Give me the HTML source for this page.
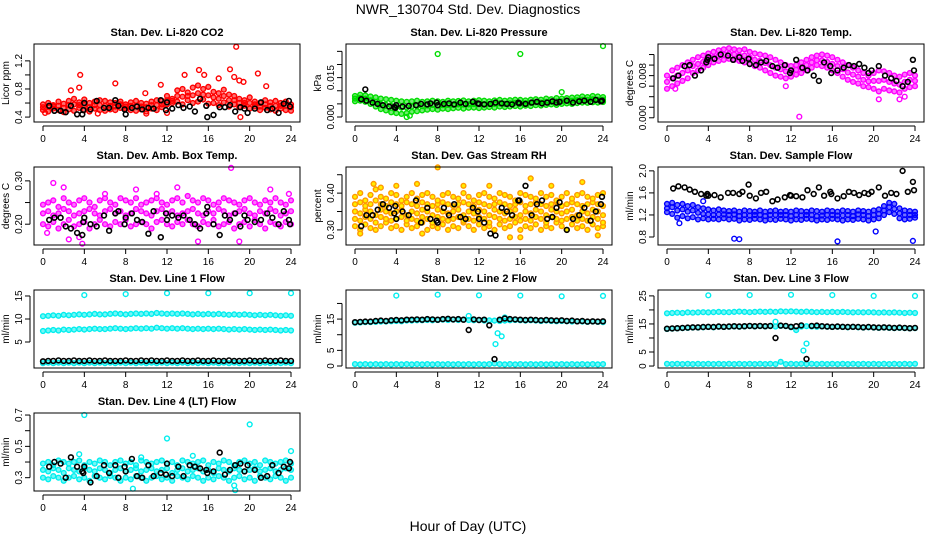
<!DOCTYPE html>
<html><head><meta charset="utf-8"><style>
html,body{margin:0;padding:0;background:#fff;}
svg{display:block;font-family:"Liberation Sans",sans-serif;}
</style></head><body>
<svg id="chart" width="936" height="540" viewBox="0 0 936 540" xmlns="http://www.w3.org/2000/svg">
<text x="468" y="14" text-anchor="middle" font-size="14">NWR_130704  Std. Dev. Diagnostics</text>
<text x="468" y="531" text-anchor="middle" font-size="14">Hour of Day (UTC)</text>
</svg>
<script>
const xTicks = [0,4,8,12,16,20,24];
const blackHours = [0.6,1.1,1.7,2.2,2.7,3.3,3.8,3.9,4.0,4.6,5.2,5.9,6.4,7.0,7.3,7.9,8.0,8.6,9.1,9.6,10.2,10.7,11.4,11.9,12.0,12.5,13.1,13.6,14.2,14.7,15.2,15.8,15.9,16.5,17.1,17.6,18.1,18.6,19.1,19.5,19.8,20.5,21.1,21.7,22.2,22.8,23.3,23.8,23.9];

// Panel 1: CO2
const co2A = [.58,.60,.57,.62,.59,.63,.66,.61,.65,.60,.62,.64,.63,.61,.60,.62,.58,.61,.63,.60,.59,.62,.64,.63,.70,.66,.78,.80,.75,.82,.85,.80,.83,.76,.74,.79,.72,.70,.66,.64,.68,.62,.60,.64,.61,.63,.60,.62,.58];
const co2B = [.50,.48,.52,.50,.47,.51,.49,.53,.50,.48,.52,.50,.49,.51,.50,.53,.52,.50,.49,.51,.48,.52,.50,.54,.58,.60,.62,.58,.64,.60,.62,.65,.59,.60,.57,.61,.55,.58,.54,.56,.52,.55,.50,.53,.51,.49,.52,.50,.49];
const co2C = [.54,.55,.55,.56,.53,.57,.58,.57,.57,.54,.57,.57,.56,.56,.55,.58,.55,.56,.56,.55,.54,.57,.57,.58,.64,.63,.70,.69,.70,.71,.74,.72,.71,.68,.66,.70,.64,.64,.60,.60,.60,.58,.55,.58,.56,.56,.56,.56,.54];
const co2OutX = [3.6,3.5,2.7,7.0,9.9,11.4,13.7,15.1,15.6,18.1,18.7,18.5,19.0,19.4,20.8,21.6,19.1,0.2,5.3,10.0,12.0,17.0];
const co2OutY = [1.0,.82,.78,.88,.74,.86,1.0,1.07,1.0,1.08,1.4,.97,.92,.90,1.02,.84,.40,.46,.45,.45,.46,.95];
const co2Black = [.56,.49,.49,.47,.56,.44,.44,.50,.60,.51,.63,.53,.53,.64,.56,.51,.44,.53,.55,.51,.53,.52,.64,.50,.61,.52,.57,.53,.55,.48,.66,.56,.40,.43,.54,.54,.57,.48,.54,.52,.46,.52,.61,.50,.52,.46,.59,.63,.55];

// Panel 2: Pressure
const prA = [.0080,.0085,.0082,.0078,.0075,.0070,.0068,.0065,.0062,.0060,.0058,.0060,.0062,.0058,.0060,.0062,.0060,.0058,.0062,.0060,.0061,.0063,.0060,.0062,.0064,.0062,.0060,.0063,.0065,.0062,.0064,.0066,.0065,.0063,.0066,.0068,.0066,.0070,.0068,.0072,.0070,.0072,.0074,.0075,.0078,.0076,.0080,.0078,.0076];
const prB = [.0060,.0062,.0058,.0050,.0040,.0030,.0025,.0018,.0015,.0012,.0015,.0020,.0022,.0025,.0028,.0030,.0028,.0032,.0030,.0033,.0035,.0032,.0035,.0036,.0034,.0036,.0038,.0036,.0040,.0038,.0040,.0042,.0040,.0043,.0042,.0045,.0044,.0046,.0048,.0046,.0050,.0052,.0050,.0053,.0055,.0054,.0056,.0055,.0057];
const prC = [.0070,.0073,.0070,.0064,.0058,.0050,.0046,.0042,.0038,.0036,.0036,.0040,.0042,.0041,.0044,.0046,.0044,.0045,.0046,.0046,.0048,.0047,.0048,.0049,.0049,.0049,.0049,.0050,.0052,.0050,.0052,.0054,.0052,.0053,.0054,.0056,.0055,.0058,.0058,.0059,.0060,.0062,.0062,.0064,.0066,.0065,.0068,.0066,.0066];
const prOutX = [8,16,24,20,5,5.3];
const prOutY = [.024,.024,.027,.0095,.0000,.0005];
const prBlack = [.0068,.0062,.0055,.0050,.0045,.0040,.0038,.0035,.0045,.0040,.0042,.0045,.0050,.0048,.0052,.0055,.0045,.0050,.0052,.0048,.0055,.0050,.0058,.0052,.0050,.0048,.0050,.0055,.0052,.0050,.0048,.0055,.0052,.0050,.0055,.0058,.0052,.0055,.0060,.0055,.0058,.0062,.0055,.0060,.0062,.0058,.0065,.0060,.0062];

// Panel 3: Li-820 Temp
const tA = [.0080,.0090,.0095,.0100,.0105,.0110,.0115,.0118,.0122,.0125,.0128,.0130,.0132,.0130,.0128,.0130,.0125,.0122,.0120,.0118,.0115,.0110,.0105,.0100,.0098,.0100,.0105,.0110,.0115,.0118,.0120,.0118,.0115,.0110,.0105,.0100,.0095,.0090,.0085,.0080,.0085,.0090,.0088,.0085,.0080,.0078,.0082,.0085,.0080];
const tB = [.0055,.0060,.0065,.0070,.0075,.0085,.0090,.0095,.0100,.0105,.0108,.0110,.0112,.0110,.0108,.0105,.0102,.0098,.0095,.0090,.0085,.0080,.0078,.0075,.0078,.0082,.0085,.0090,.0095,.0100,.0098,.0095,.0090,.0085,.0078,.0072,.0068,.0065,.0060,.0058,.0055,.0050,.0055,.0052,.0050,.0048,.0055,.0058,.0060];
const tC = [.0068,.0075,.0080,.0085,.0090,.0098,.0102,.0106,.0111,.0115,.0118,.0120,.0122,.0120,.0118,.0118,.0114,.0110,.0108,.0104,.0100,.0095,.0092,.0088,.0088,.0091,.0095,.0100,.0105,.0109,.0109,.0106,.0102,.0098,.0092,.0086,.0082,.0078,.0072,.0069,.0070,.0070,.0072,.0068,.0065,.0063,.0068,.0072,.0070];
const tOutX = [0.8,12.8,11.5,20.5,22.5,23.0];
const tOutY = [.0055,.0002,.0060,.0035,.0035,.0040];
const tBlack = [.0075,.0080,.0098,.0100,.0080,.0090,.0105,.0110,.0115,.0112,.0120,.0118,.0110,.0115,.0108,.0112,.0102,.0100,.0105,.0108,.0098,.0095,.0100,.0085,.0090,.0110,.0095,.0090,.0080,.0070,.0105,.0098,.0085,.0090,.0095,.0100,.0098,.0102,.0095,.0085,.0090,.0098,.0080,.0075,.0070,.0060,.0068,.0110,.0090];

// Panel 4: Amb Box Temp
const abA = [.245,.25,.255,.24,.26,.25,.245,.255,.26,.25,.24,.255,.26,.25,.245,.26,.255,.25,.26,.245,.25,.255,.26,.25,.245,.255,.26,.25,.265,.255,.25,.26,.255,.245,.25,.26,.255,.25,.245,.255,.26,.25,.245,.255,.25,.26,.25,.245,.255];
const abB = [.20,.195,.205,.19,.20,.21,.195,.20,.205,.19,.20,.21,.20,.195,.205,.20,.21,.195,.20,.205,.20,.19,.205,.21,.20,.195,.205,.20,.21,.20,.195,.205,.20,.21,.195,.20,.205,.19,.20,.205,.195,.21,.20,.19,.205,.20,.195,.205,.20];
const abC = [.225,.23,.22,.225,.235,.23,.22,.225,.23,.235,.225,.22,.23,.235,.225,.23,.22,.225,.235,.23,.225,.22,.23,.235,.225,.23,.22,.225,.23,.235,.225,.22,.23,.225,.235,.23,.22,.225,.23,.235,.225,.22,.23,.225,.235,.23,.22,.225,.23];
const abOutX = [1,2,2.5,3.5,3.8,9,13,18.2,15,19,22,23.8,0.4,6,11];
const abOutY = [.295,.285,.165,.17,.155,.28,.285,.33,.16,.16,.28,.27,.18,.27,.27];
const abBlack = [.21,.215,.215,.195,.19,.18,.175,.205,.215,.20,.195,.22,.185,.225,.23,.20,.215,.225,.21,.205,.178,.23,.17,.225,.21,.22,.215,.22,.21,.20,.19,.225,.24,.20,.175,.22,.21,.225,.195,.22,.21,.205,.21,.225,.215,.20,.23,.21,.20];

// Panel 5: Gas Stream RH
const rhA = [.39,.40,.38,.395,.41,.39,.385,.40,.395,.38,.39,.40,.385,.395,.40,.39,.38,.395,.40,.39,.385,.40,.39,.38,.395,.40,.39,.385,.40,.395,.39,.38,.40,.395,.39,.385,.40,.39,.395,.38,.39,.40,.385,.395,.40,.39,.385,.395,.40];
const rhC = [.35,.345,.355,.35,.34,.355,.35,.345,.35,.355,.34,.35,.345,.355,.35,.34,.355,.35,.345,.35,.355,.34,.35,.345,.355,.35,.34,.355,.35,.345,.35,.355,.34,.35,.345,.355,.35,.34,.355,.35,.345,.35,.355,.34,.35,.345,.355,.35,.34];
const rhB = [.31,.30,.315,.305,.30,.31,.32,.305,.31,.30,.315,.305,.31,.32,.30,.31,.305,.315,.30,.31,.305,.32,.31,.30,.315,.305,.31,.30,.315,.305,.31,.32,.30,.31,.305,.315,.30,.31,.305,.32,.31,.30,.315,.305,.31,.30,.315,.305,.31];
const rhD = [.37,.375,.365,.37,.38,.37,.365,.375,.37,.365,.375,.37,.365,.375,.37,.365,.37,.375,.37,.365,.37,.375,.37,.365,.375,.37,.365,.37,.375,.37,.365,.37,.375,.365,.37,.375,.37,.365,.37,.375,.365,.37,.375,.37,.365,.37,.375,.37,.365];
const rhE = [.33,.325,.335,.33,.32,.335,.33,.325,.33,.335,.325,.33,.325,.335,.33,.32,.335,.33,.325,.33,.335,.325,.33,.325,.335,.33,.32,.335,.33,.325,.33,.335,.325,.33,.325,.335,.33,.32,.335,.33,.325,.33,.335,.325,.33,.325,.335,.33,.32];
const rhOutX = [0.5,1.8,4,6,8,10.5,15,16,17,13,22,23.5,6.5,2.5,19];
const rhOutY = [.29,.425,.42,.425,.47,.42,.28,.28,.44,.42,.43,.285,.29,.415,.42];
const rhBlack = [.31,.34,.34,.355,.37,.36,.345,.365,.33,.35,.34,.38,.32,.36,.33,.325,.32,.36,.34,.37,.335,.33,.36,.35,.33,.32,.29,.285,.36,.35,.34,.38,.38,.42,.34,.37,.38,.33,.335,.36,.375,.30,.33,.34,.36,.325,.35,.37,.39];

// Panel 6: Sample Flow
const sfA = [1.40,1.42,1.38,1.40,1.36,1.38,1.34,1.32,1.30,1.28,1.30,1.28,1.27,1.28,1.26,1.28,1.27,1.26,1.28,1.26,1.27,1.28,1.26,1.27,1.26,1.28,1.27,1.26,1.28,1.27,1.26,1.28,1.27,1.26,1.28,1.27,1.26,1.28,1.27,1.26,1.28,1.30,1.36,1.42,1.40,1.32,1.28,1.27,1.26];
const sfB = [1.25,1.22,1.15,1.18,1.14,1.16,1.12,1.14,1.12,1.13,1.12,1.14,1.12,1.13,1.10,1.12,1.11,1.13,1.12,1.10,1.12,1.11,1.13,1.12,1.10,1.12,1.11,1.13,1.12,1.10,1.12,1.11,1.13,1.12,1.10,1.12,1.11,1.13,1.12,1.10,1.12,1.14,1.20,1.25,1.22,1.14,1.12,1.13,1.15];
const sfC = [1.32,1.34,1.28,1.30,1.26,1.28,1.24,1.22,1.21,1.20,1.21,1.21,1.20,1.21,1.18,1.20,1.19,1.20,1.20,1.18,1.20,1.20,1.20,1.20,1.18,1.20,1.19,1.20,1.20,1.18,1.19,1.20,1.20,1.19,1.19,1.20,1.18,1.21,1.20,1.18,1.20,1.22,1.28,1.34,1.31,1.23,1.20,1.20,1.20];
const sfOutX = [6.5,7,16.5,20.2,23.8,3.5,1.2];
const sfOutY = [.77,.76,.72,.90,.73,1.45,1.05];
const sfBlack = [1.68,1.72,1.70,1.66,1.62,1.58,1.55,1.58,1.55,1.56,1.52,1.60,1.60,1.58,1.62,1.75,1.55,1.50,1.60,1.62,1.45,1.48,1.52,1.56,1.55,1.54,1.52,1.65,1.58,1.70,1.55,1.62,1.58,1.50,1.54,1.62,1.60,1.56,1.60,1.58,1.62,1.70,1.55,1.60,1.58,2.00,1.62,1.80,1.65];

// Panel 7: Line 1 Flow
const l1Top = [10.6,10.7,10.8,10.7,10.9,10.8,10.9,11.0,10.9,11.0,11.1,11.0,11.0,11.1,11.2,11.1,11.0,11.1,11.2,11.1,11.2,11.1,11.3,11.2,11.1,11.2,11.1,11.2,11.1,11.0,11.1,11.0,11.1,11.0,11.1,11.0,10.9,11.0,10.9,11.0,10.9,10.8,10.9,10.8,10.9,10.8,10.7,10.8,10.7];
const l1Mid = [7.4,7.5,7.6,7.5,7.7,7.6,7.7,7.8,7.7,7.8,7.9,7.8,7.8,7.9,8.0,7.9,7.8,7.9,8.0,7.9,8.0,7.9,8.1,8.0,7.9,8.0,7.9,8.0,7.9,7.8,7.9,7.8,7.9,7.8,7.9,7.8,7.7,7.8,7.7,7.8,7.7,7.6,7.7,7.6,7.7,7.6,7.5,7.6,7.5];
const l1Low = [0.4,0.5,0.4,0.5,0.4,0.5,0.4,0.5,0.4,0.5,0.4,0.5,0.4,0.5,0.4,0.5,0.4,0.5,0.4,0.5,0.4,0.5,0.4,0.5,0.4,0.5,0.4,0.5,0.4,0.5,0.4,0.5,0.4,0.5,0.4,0.5,0.4,0.5,0.4,0.5,0.4,0.5,0.4,0.5,0.4,0.5,0.4,0.5,0.4];
const l1OutX = [4,8,12,16,20,24];
const l1OutY = [15.2,15.4,15.6,15.6,15.6,15.6];
const l1Black = [0.8,0.9,0.9,1.0,0.9,0.9,1.0,0.9,0.9,1.0,0.9,0.9,1.0,0.9,0.9,0.9,1.0,0.9,0.9,1.0,0.9,1.0,0.9,0.9,1.0,0.9,0.9,1.0,0.9,0.9,1.0,0.9,0.9,1.0,0.9,0.9,1.0,0.9,0.9,0.9,1.0,0.9,0.9,1.0,0.9,0.9,1.0,0.9,0.9];

// Panel 8: Line 2 Flow
const l2Top = [13.8,13.9,14.0,14.0,14.1,14.2,14.2,14.3,14.4,14.3,14.5,14.5,14.6,14.6,14.7,14.6,14.7,14.8,14.7,14.8,14.7,14.8,14.7,14.6,14.7,14.5,14.6,14.5,14.4,14.5,14.6,14.7,14.6,14.5,14.6,14.5,14.4,14.5,14.4,14.3,14.4,14.3,14.2,14.3,14.2,14.1,14.2,14.1,14.0];
const l2Low = [0.6,0.5,0.6,0.5,0.6,0.5,0.6,0.5,0.6,0.5,0.6,0.5,0.6,0.5,0.6,0.5,0.6,0.5,0.6,0.5,0.6,0.5,0.6,0.5,0.6,0.5,0.6,0.8,0.6,0.5,0.6,0.5,0.6,0.5,0.6,0.5,0.6,0.5,0.6,0.5,0.6,0.5,0.6,0.5,0.6,0.5,0.6,0.5,0.6];
const l2OutX = [4,8,12,16,20,24,13.6,13.8,14.2,11.0,14.5];
const l2OutY = [22.5,22.8,22.6,22.5,22.3,22.4,7.0,10.5,9.5,16.0,15.5];
const l2Black = [14.0,14.1,14.2,14.2,14.4,14.5,14.4,14.6,14.7,14.6,14.8,14.8,14.9,14.8,15.0,14.9,14.8,15.0,15.1,14.9,15.0,14.8,11.5,14.9,14.7,14.8,13.0,2.2,14.8,15.2,15.0,14.9,14.8,14.7,14.8,14.7,14.6,14.7,14.6,14.5,14.6,14.4,14.5,14.3,14.4,14.2,14.3,14.2,14.3];

// Panel 9: Line 3 Flow
const l3Top = [18.8,18.9,19.0,18.9,19.1,19.0,19.1,19.2,19.1,19.2,19.3,19.2,19.2,19.3,19.4,19.3,19.2,19.3,19.4,19.3,19.4,19.3,19.5,19.4,19.5,19.4,19.3,19.4,19.3,19.2,19.3,19.2,19.3,19.2,19.3,19.2,19.1,19.2,19.1,19.2,19.1,19.0,19.1,19.0,19.1,19.0,18.9,19.0,18.9];
const l3Mid = [13.2,13.3,13.4,13.5,13.6,13.7,13.7,13.8,13.9,13.8,14.0,13.9,14.0,14.1,14.0,14.1,14.2,14.1,14.2,14.1,14.2,14.1,14.3,14.2,13.8,12.8,14.1,14.2,14.1,14.0,14.1,14.0,13.9,14.0,13.9,13.8,13.9,13.8,13.7,13.8,13.7,13.6,13.7,13.6,13.5,13.6,13.5,13.4,13.5];
const l3Low = [0.8,0.7,0.8,0.7,0.8,0.7,0.8,0.7,0.8,0.7,0.8,0.7,0.8,0.7,0.8,0.7,0.8,0.7,0.8,0.7,0.8,0.7,1.5,0.7,0.8,0.7,0.8,0.7,0.8,0.7,0.8,0.7,0.8,0.7,0.8,0.7,0.8,0.7,0.8,0.7,0.8,0.7,0.8,0.7,0.8,0.7,0.8,0.7,0.8];
const l3OutX = [4,8,12,16,20,24,13.2,13.5,10.5];
const l3OutY = [25.2,25.3,25.4,25.3,25.0,25.0,5.5,8.0,15.8];
const l3Black = [13.3,13.4,13.5,13.6,13.7,13.8,13.8,13.9,14.0,13.9,14.1,14.0,14.1,14.2,14.1,14.2,14.3,14.2,14.3,14.2,14.3,10.0,14.4,14.3,14.0,14.2,14.5,2.5,14.3,14.4,14.2,14.1,14.0,14.1,14.0,13.9,14.0,13.9,13.8,13.9,13.8,13.7,13.8,13.7,13.6,13.7,13.6,13.5,13.6];

// Panel 10: Line 4 (LT) Flow
const l4A = [.39,.40,.38,.41,.40,.39,.40,.41,.38,.40,.39,.41,.40,.38,.40,.41,.39,.40,.38,.41,.40,.39,.40,.41,.39,.40,.38,.41,.40,.39,.40,.41,.38,.40,.39,.41,.40,.38,.40,.41,.39,.40,.38,.41,.40,.39,.40,.41,.39];
const l4B = [.30,.29,.31,.30,.28,.30,.31,.29,.30,.28,.31,.30,.29,.31,.30,.28,.30,.29,.31,.30,.28,.30,.31,.29,.30,.28,.31,.30,.29,.31,.30,.28,.30,.29,.31,.30,.28,.30,.31,.29,.30,.28,.31,.30,.29,.31,.30,.28,.30];
const l4C = [.35,.34,.36,.35,.33,.36,.35,.34,.36,.35,.34,.36,.35,.33,.35,.36,.34,.35,.36,.34,.35,.36,.34,.35,.36,.33,.35,.36,.34,.35,.36,.34,.35,.33,.36,.35,.34,.36,.35,.34,.35,.36,.34,.35,.36,.34,.35,.36,.35];
const l4OutX = [4,12,20,24,8.7,18.5,18.6,3.5,9.5,14.5];
const l4OutY = [.70,.55,.64,.47,.23,.25,.22,.45,.43,.44];
const l4Black = [.37,.40,.39,.30,.43,.37,.34,.33,.37,.27,.31,.38,.33,.38,.30,.37,.34,.42,.31,.30,.38,.31,.33,.32,.39,.31,.37,.31,.38,.37,.36,.35,.33,.34,.46,.32,.35,.38,.39,.34,.38,.35,.30,.31,.38,.33,.37,.36,.40];

const halfHours = co2A.map((_, i) => i * 0.5);

const panels = [
 {id:'co2', col:0,row:0,title:'Stan. Dev. Li-820 CO2',ylab:'Licor ppm',ymin:.33,ymax:1.44,ticks:[.4,.6,.8,1.0,1.2],labels:{'0.4':1,'0.8':1,'1.2':1},dec:1,color:'#ff0000',bands:[co2B,co2C,co2A],ox:co2OutX,oy:co2OutY,bx:blackHours,by:co2Black},
 {id:'pressure', col:1,row:0,title:'Stan. Dev. Li-820 Pressure',ylab:'kPa',ymin:-.0019,ymax:.0278,ticks:[0,.005,.01,.015,.02,.025],labels:{'0.000':1,'0.015':1},dec:3,color:'#00dd00',bands:[prB,prC,prA],ox:prOutX,oy:prOutY,bx:blackHours,by:prBlack,extraBlack:[[1,.0105]]},
 {id:'temp', col:2,row:0,title:'Stan. Dev. Li-820 Temp.',ylab:'degrees C',ymin:-.0008,ymax:.014,ticks:[0,.002,.004,.006,.008,.01,.012],labels:{'0.000':1,'0.008':1},dec:3,color:'#ff00ff',bands:[tB,tC,tA],ox:tOutX,oy:tOutY,bx:blackHours,by:tBlack},
 {id:'ambbox', col:0,row:1,title:'Stan. Dev. Amb. Box Temp.',ylab:'degrees C',ymin:.152,ymax:.332,ticks:[.2,.25,.3],labels:{'0.20':1,'0.30':1},dec:2,color:'#ff00ff',bands:[abB,abC,abA],ox:abOutX,oy:abOutY,bx:blackHours,by:abBlack},
 {id:'rh', col:1,row:1,title:'Stan. Dev. Gas Stream RH',ylab:'percent',ymin:.259,ymax:.471,ticks:[.3,.35,.4,.45],labels:{'0.30':1,'0.40':1},dec:2,color:'#ff9900',fill:'#ffee00',bands:[rhB,rhE,rhC,rhD,rhA],ox:rhOutX,oy:rhOutY,bx:blackHours,by:rhBlack},
 {id:'sampleflow', col:2,row:1,title:'Stan. Dev. Sample Flow',ylab:'ml/min',ymin:.655,ymax:2.07,ticks:[.8,1.2,1.6,2.0],labels:{'0.8':1,'1.2':1,'1.6':1,'2.0':1},dec:1,color:'#0000ff',bands:[sfB,sfC,sfA],ox:sfOutX,oy:sfOutY,bx:blackHours,by:sfBlack},
 {id:'line1', col:0,row:2,title:'Stan. Dev. Line 1 Flow',ylab:'ml/min',ymin:-.65,ymax:16.3,ticks:[5,10,15],labels:{'5':1,'10':1,'15':1},dec:0,color:'#00eeee',bands:[l1Low,l1Mid,l1Top],ox:l1OutX,oy:l1OutY,bx:halfHours,by:l1Black},
 {id:'line2', col:1,row:2,title:'Stan. Dev. Line 2 Flow',ylab:'ml/min',ymin:-.64,ymax:24.3,ticks:[0,5,10,15,20],labels:{'0':1,'5':1,'15':1},dec:0,color:'#00eeee',bands:[l2Low,l2Top],ox:l2OutX,oy:l2OutY,bx:halfHours,by:l2Black},
 {id:'line3', col:2,row:2,title:'Stan. Dev. Line 3 Flow',ylab:'ml/min',ymin:-.7,ymax:27.1,ticks:[0,5,10,15,20,25],labels:{'0':1,'5':1,'15':1,'25':1},dec:0,color:'#00eeee',bands:[l3Low,l3Mid,l3Top],ox:l3OutX,oy:l3OutY,bx:halfHours,by:l3Black},
 {id:'line4', col:0,row:3,title:'Stan. Dev. Line 4 (LT) Flow',ylab:'ml/min',ymin:.215,ymax:.713,ticks:[.3,.4,.5,.6,.7],labels:{'0.3':1,'0.5':1,'0.7':1},dec:1,color:'#00eeee',bands:[l4B,l4C,l4A],ox:l4OutX,oy:l4OutY,bx:blackHours,by:l4Black}
];

const NS = 'http://www.w3.org/2000/svg';
const svg = document.getElementById('chart');
function mk(tag, attrs, parent) {
  const e = document.createElementNS(NS, tag);
  for (const k in attrs) e.setAttribute(k, attrs[k]);
  parent.appendChild(e);
  return e;
}
const BOXW = 266, BOXH = 78, RAD = 2.4;
panels.forEach(p => {
  const L = 34 + p.col * 312, T = 44 + p.row * 123;
  const B = T + BOXH;
  const xs = h => L + 9 + h / 24 * 248;
  const ys = v => B - (v - p.ymin) / (p.ymax - p.ymin) * BOXH;
  const g = mk('g', {}, svg);
  
  
  const t = mk('text', {x: L + BOXW / 2, y: T - 8, 'text-anchor': 'middle', 'font-size': 11, 'font-weight': 'bold'}, g);
  
  
  t.textContent = p.title;
  const marks = mk('g', {fill: 'none', 'stroke-width': 1.4}, g);
  
  
  const bandFill = p.fill || p.color;
  p.bands.forEach(arr => {
    arr.forEach((v, i) => {
      const c = mk('circle', {cx: xs(halfHours[i]).toFixed(1), cy: ys(v).toFixed(1), r: RAD, stroke: p.color, fill: bandFill, 'fill-opacity': p.fill ? 1 : 0.55}, marks);
      
      
    });
  });
  p.ox.forEach((x, i) => {
    const c = mk('circle', {cx: xs(x).toFixed(1), cy: ys(p.oy[i]).toFixed(1), r: RAD, stroke: p.color, fill: p.fill || 'none'}, marks);
    
    
  });
  const bpts = p.by.map((v, i) => [p.bx[i], v]).concat(p.extraBlack || []);
  bpts.forEach(pt => {
    const c = mk('circle', {cx: xs(pt[0]).toFixed(1), cy: ys(pt[1]).toFixed(1), r: RAD, stroke: '#000', fill: 'none', 'stroke-width': 1.6}, marks);
    
    
  });
  const box = mk('rect', {x: L, y: T, width: BOXW, height: BOXH, fill: 'none', stroke: '#000', 'stroke-width': 1}, g);
  
  
  const xa = mk('g', {stroke: '#000', 'stroke-width': 1}, g);
  
  
  mk('line', {x1: xs(0), x2: xs(24), y1: B + 4, y2: B + 4}, xa);
  xTicks.forEach(h => {
    mk('line', {x1: xs(h), x2: xs(h), y1: B + 4, y2: B + 9}, xa);
    const tl = mk('text', {x: xs(h), y: B + 20, 'text-anchor': 'middle', 'font-size': 10, stroke: 'none', fill: '#000'}, xa);
    
    
    tl.textContent = h;
  });
  const ya = mk('g', {stroke: '#000', 'stroke-width': 1}, g);
  
  
  const y0 = ys(p.ticks[0]), y1 = ys(p.ticks[p.ticks.length - 1]);
  mk('line', {x1: L - 4, x2: L - 4, y1: y0, y2: y1}, ya);
  p.ticks.forEach(v => {
    const y = ys(v);
    mk('line', {x1: L - 9, x2: L - 4, y1: y, y2: y}, ya);
    const s = v.toFixed(p.dec);
    if (p.labels[s]) {
      const tl = mk('text', {x: 0, y: 0, transform: `translate(${L - 12},${y}) rotate(-90)`, 'text-anchor': 'middle', 'font-size': 10, stroke: 'none', fill: '#000'}, ya);
      
      
      tl.textContent = s;
    }
  });
  const yl = mk('text', {x: 0, y: 0, transform: `translate(${L - 25},${T + BOXH / 2}) rotate(-90)`, 'text-anchor': 'middle', 'font-size': 10}, g);
  
  
  yl.textContent = p.ylab;
});
</script>
</body></html>
